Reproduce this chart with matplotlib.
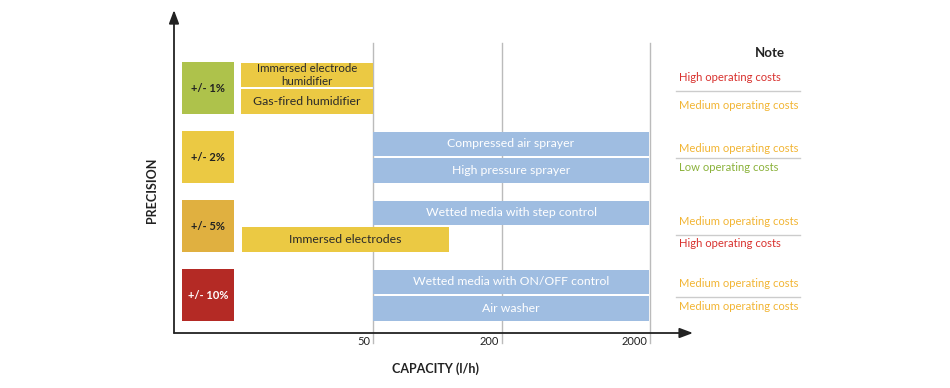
import matplotlib.pyplot as plt

plt.rcParams['font.family'] = ['Lato', 'DejaVu Sans']

# precision classes (top to bottom) and their colours
precision = ['+/- 1%', '+/- 2%', '+/- 5%', '+/- 10%']
precision_colors = ['#AEC24B', '#EBC943', '#E0B040', '#B42A25']
precision_text = ['#222222', '#222222', '#222222', '#FFFFFF']

# capacity ticks (l/h) and their schematic positions on the axis
cap_ticks = ['50', '200', '2000']
cap_pos = [1.99, 3.28, 4.76]

# systems: name, precision row, half (0 top / 1 bottom), start, end on capacity axis
systems = ['Immersed electrode\nhumidifier', 'Gas-fired humidifier',
           'Compressed air sprayer', 'High pressure sprayer',
           'Wetted media with step control', 'Immersed electrodes',
           'Wetted media with ON/OFF control', 'Air washer']
sys_row = [0, 0, 1, 1, 2, 2, 3, 3]
sys_half = [0, 1, 0, 1, 0, 1, 0, 1]
sys_start = [0.67, 0.67, 1.99, 1.99, 1.99, 0.68, 1.99, 1.99]
sys_end = [1.99, 1.99, 4.75, 4.75, 4.75, 2.75, 4.75, 4.75]
sys_kind = ['y', 'y', 'b', 'b', 'b', 'y', 'b', 'b']

# operating cost notes, one per system
notes = ['High', 'Medium', 'Medium', 'Low', 'Medium', 'High', 'Medium', 'Medium']
note_colors = {'High': '#D8312E', 'Medium': '#F2B534', 'Low': '#8BB23B'}
# note placement relative to row centre (upper note, lower note, separator)
note_up = [0.16, 0.12, 0.07, 0.17]
note_dn = [-0.26, -0.15, -0.26, -0.16]
note_sep = [-0.04, -0.02, -0.13, -0.03]

fig = plt.figure(figsize=(9.5, 3.88), dpi=100)
ax = fig.add_axes([0, 0, 1, 1])
ax.set_xlim(-1.74, 7.76)
ax.set_ylim(-0.797, 4.826)
ax.axis('off')

n = len(precision)
row_y = [n - 1 - i + 0.55 for i in range(n)]

# grid lines at capacity ticks
for p, t in zip(cap_pos, cap_ticks):
    ax.plot([p, p], [-0.145, 4.2], color='#BBBBBB', lw=1, zorder=1)
    ax.text(p - 0.03, -0.13, t, ha='right', va='center', fontsize=8, color='#222222')

# precision squares
for i, (lab, c, tc) in enumerate(zip(precision, precision_colors, precision_text)):
    ax.bar(0.34, 0.75, width=0.52, bottom=row_y[i] - 0.375, color=c, zorder=2)
    ax.text(0.34, row_y[i], lab, ha='center', va='center', fontsize=8,
            fontweight='bold', color=tc, zorder=3)

# system bars
for name, r, h, s, e, k in zip(systems, sys_row, sys_half, sys_start, sys_end, sys_kind):
    yc = row_y[r] + (0.19 if h == 0 else -0.19)
    col = '#EBC943' if k == 'y' else '#9FBDE1'
    ax.barh(yc, e - s, left=s, height=0.36, color=col, zorder=2)
    multi = '\n' in name
    ax.text((s + e) / 2, yc, name, ha='center', va='center',
            fontsize=8.3 if multi else 8.8, linespacing=1.2,
            color='#2A2A2A' if k == 'y' else '#FFFFFF', zorder=3)

# axes arrows
arrow = dict(arrowstyle='-|>,head_length=0.8,head_width=0.3', color='#222222', lw=1.3,
             shrinkA=0, shrinkB=0)
ax.annotate('', xy=(0, 4.68), xytext=(0, 0), arrowprops=arrow, zorder=4)
ax.annotate('', xy=(5.19, 0), xytext=(0, 0), arrowprops=arrow, zorder=4)

ax.text(-0.22, 2.07, 'PRECISION', rotation=90, ha='center', va='center',
        fontsize=9, fontweight='bold', color='#222222')
ax.text(2.61, -0.51, 'CAPACITY (l/h)', ha='center', va='center',
        fontsize=9, fontweight='bold', color='#222222')

# notes column
ax.text(5.96, 4.06, 'Note', ha='center', va='center', fontsize=9.5,
        fontweight='bold', color='#222222')
for r in range(n):
    ax.plot([5.02, 6.26], [row_y[r] + note_sep[r]] * 2, color='#CCCCCC', lw=1)
for i, nt in enumerate(notes):
    r = sys_row[i]
    yc = row_y[r] + (note_up[r] if sys_half[i] == 0 else note_dn[r])
    ax.text(5.05, yc, nt + ' operating costs', ha='left', va='center',
            fontsize=8.1, color=note_colors[nt])

fig.savefig('out.png', dpi=100)
